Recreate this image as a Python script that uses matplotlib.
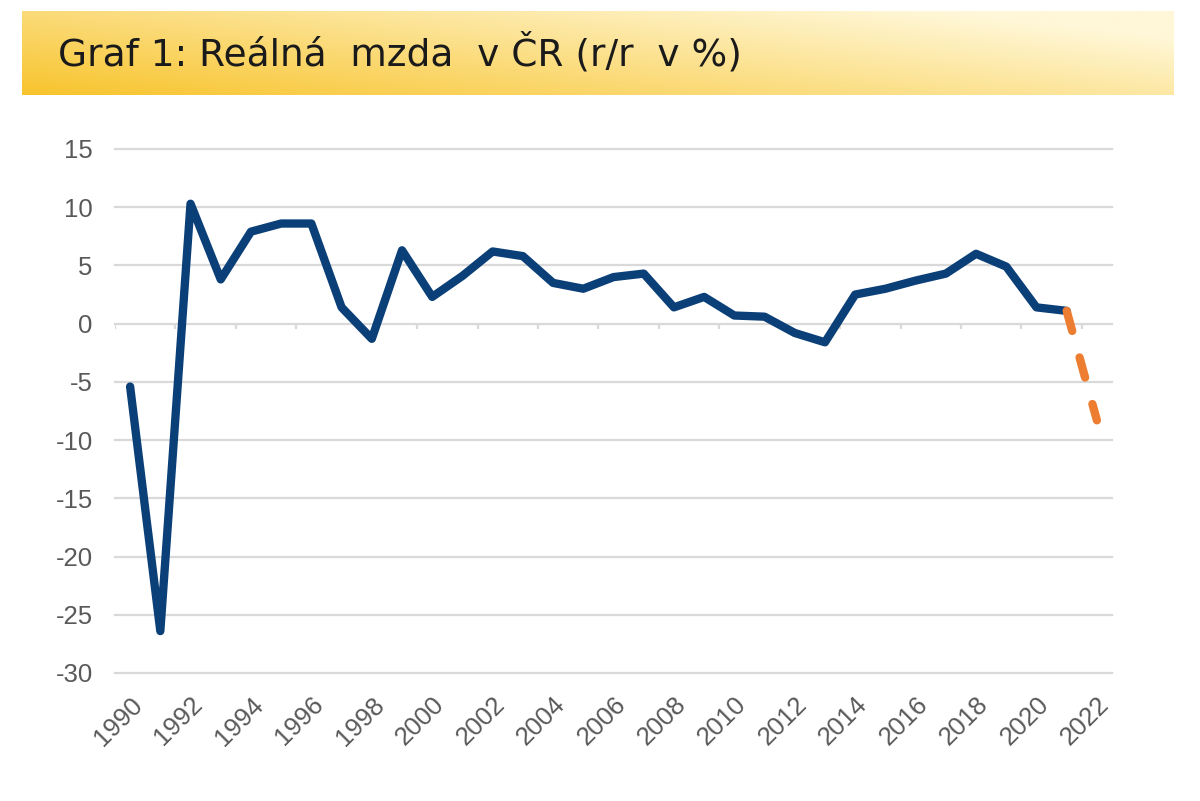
import matplotlib.pyplot as plt
import numpy as np

plt.rcParams['axes.unicode_minus'] = False

years = list(range(1990, 2022))
real_wage = [-5.4, -26.4, 10.3, 3.8, 7.9, 8.6, 8.6, 1.4, -1.3, 6.3,
             2.3, 4.1, 6.2, 5.8, 3.5, 3.0, 4.0, 4.3, 1.4, 2.3,
             0.7, 0.6, -0.8, -1.6, 2.5, 3.0, 3.7, 4.3, 6.0, 4.9,
             1.4, 1.1]
forecast_years = [2021, 2022]
forecast = [1.1, -8.3]
tick_years = list(range(1990, 2023, 2))
y_ticks = [15, 10, 5, 0, -5, -10, -15, -20, -25, -30]
title = 'Graf 1: Reálná  mzda  v ČR (r/r  v %)'

W, H = 1200, 801
fig = plt.figure(figsize=(12, 8.01), dpi=100)

# yellow title banner with a soft gradient
bx = fig.add_axes([22 / W, 1 - 95 / H, 1152 / W, 84 / H])
gx, gy = np.meshgrid(np.linspace(0, 1, 300), np.linspace(0, 1, 60))
t = np.clip(0.7 * gx + 0.45 * (1 - gy), 0, 1)  # gy=0 at top of image
c0 = np.array([248, 196, 45]) / 255
c1 = np.array([255, 247, 215]) / 255
img = c0 * (1 - t[..., None]) + c1 * t[..., None]
bx.imshow(img, aspect='auto', extent=[0, 1, 0, 1], origin='upper')
bx.axis('off')
fig.text(58 / W, 1 - 53 / H, title, fontsize=27, color='#1a1a1a',
         family='DejaVu Sans', va='center', ha='left')

ax = fig.add_axes([115 / W, 1 - 673 / H, 997 / W, 524 / H])
ax.plot(years, real_wage, color='#0b3f78', lw=6, solid_capstyle='round',
        solid_joinstyle='round', zorder=3)
ax.plot(forecast_years, forecast, color='#ed7d31', lw=6, dashes=(2.5, 3.3),
        dash_capstyle='round', zorder=4)

ax.set_xlim(years[0] - 0.5, forecast_years[-1] + 0.5)
ax.set_ylim(-30, 15)
ax.set_yticks(y_ticks)
ax.set_xticks(tick_years)
ax.set_xticklabels([str(y) for y in tick_years], rotation=45, ha='right',
                   rotation_mode='anchor')
ax.tick_params(axis='both', length=0, labelsize=18.5, labelcolor='#595959')
ax.tick_params(axis='y', pad=16)
ax.tick_params(axis='x', pad=14)
for lab in ax.get_xticklabels() + ax.get_yticklabels():
    lab.set_family('Liberation Sans')
for s in ax.spines.values():
    s.set_visible(False)
ax.yaxis.grid(True, color='#d9d9d9', lw=1.6)
for gl in ax.get_ygridlines():
    gl.set_clip_on(False)
ax.set_axisbelow(True)

# category tick marks on the zero line
bounds = np.arange(years[0] - 0.5, forecast_years[-1] + 1, 2)
ax.vlines(bounds, -0.45, 0, color='#d9d9d9', lw=1.6, zorder=1)

fig.savefig('out.png', dpi=100)
